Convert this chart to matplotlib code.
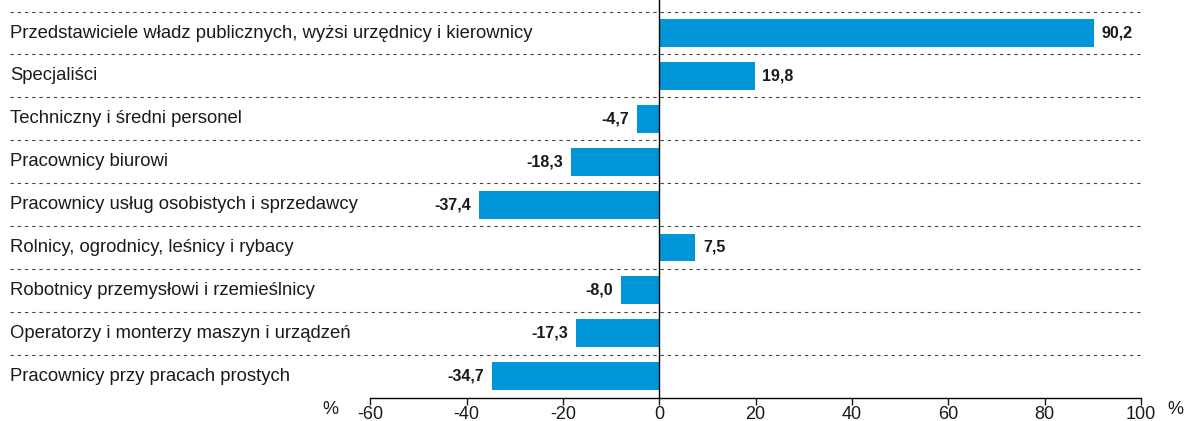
import matplotlib.pyplot as plt
import matplotlib.transforms as mtransforms

categories = [
    "Przedstawiciele władz publicznych, wyżsi urzędnicy i kierownicy",
    "Specjaliści",
    "Techniczny i średni personel",
    "Pracownicy biurowi",
    "Pracownicy usług osobistych i sprzedawcy",
    "Rolnicy, ogrodnicy, leśnicy i rybacy",
    "Robotnicy przemysłowi i rzemieślnicy",
    "Operatorzy i monterzy maszyn i urządzeń",
    "Pracownicy przy pracach prostych",
]
values = [90.2, 19.8, -4.7, -18.3, -37.4, 7.5, -8.0, -17.3, -34.7]
xticks = [-60, -40, -20, 0, 20, 40, 60, 80, 100]

W, H = 1187, 421
fig = plt.figure(figsize=(W / 100, H / 100), dpi=100)
ax = fig.add_axes([370.3 / W, 1 - 398 / H, (1141 - 370.3) / W, 398 / H])

bar_color = "#0096D8"
ypos = list(range(len(categories)))
ax.barh(ypos, values, height=0.65, color=bar_color, zorder=2)

ax.set_xlim(-60, 100)
ax.set_ylim(8.51, -0.77)
ax.axvline(0, color="black", lw=1.0, zorder=3)

# dashed separators spanning into the label area
trans_lines = mtransforms.blended_transform_factory(fig.transFigure, ax.transData)
for i in range(len(categories)):
    ax.plot([10 / W, 1142 / W], [i - 0.5, i - 0.5], transform=trans_lines,
            ls=(0, (3, 3.5)), color="#444444", lw=0.8, clip_on=False, zorder=1)

# category labels
for i, c in enumerate(categories):
    ax.text(10 / W, i, c, transform=trans_lines, ha="left", va="center",
            fontsize=13.3, family=["Liberation Sans", "DejaVu Sans"], color="#1a1a1a")

# value labels
vfont = dict(fontsize=11.5, fontweight="bold", color="#1a1a1a",
             family=["Liberation Sans Narrow", "Liberation Sans", "DejaVu Sans"])
for i, v in enumerate(values):
    s = f"{v:.1f}".replace(".", ",")
    if v >= 0:
        ax.text(v + 1.6, i, s, ha="left", va="center", **vfont)
    else:
        ax.text(v - 1.6, i, s, ha="right", va="center", **vfont)

for sp in ["top", "right", "left"]:
    ax.spines[sp].set_visible(False)
ax.spines["bottom"].set_linewidth(1.0)
ax.set_yticks([])
ax.set_xticks(xticks)
ax.set_xticklabels([str(t) for t in xticks], fontsize=13, family=["Liberation Sans", "DejaVu Sans"])
ax.tick_params(axis="x", length=5, width=1.0, pad=1, colors="#1a1a1a")

fig.text(330 / W, 1 - 410 / H, "%", ha="center", va="center", fontsize=13,
         family=["Liberation Sans", "DejaVu Sans"], color="#1a1a1a")
fig.text(1175 / W, 1 - 410 / H, "%", ha="center", va="center", fontsize=13,
         family=["Liberation Sans", "DejaVu Sans"], color="#1a1a1a")

fig.savefig("out.png", dpi=100)
